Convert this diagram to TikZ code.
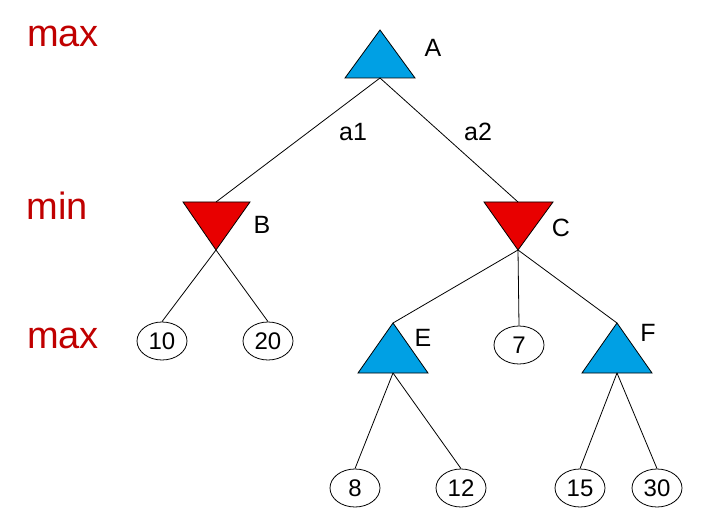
\documentclass[tikz,border=0pt]{standalone}
\usepackage{fontspec}
\usetikzlibrary{shapes.geometric}
\setmainfont{Liberation Sans}
\definecolor{maxc}{RGB}{0,160,228}
\definecolor{minc}{RGB}{232,0,0}
\definecolor{lvl}{RGB}{192,0,0}
\begin{document}
\begin{tikzpicture}[x=1pt,y=-1pt,
  lvltxt/.style={text=lvl,font=\fontsize{38}{40}\selectfont},
  lab/.style={font=\fontsize{25}{27}\selectfont},
  leaf/.style={draw,ellipse,minimum width=50pt,minimum height=38pt,inner sep=0pt,font=\fontsize{24}{26}\selectfont,thick},
  maxtri/.style={draw,fill=maxc,thick},
  mintri/.style={draw,fill=minc,thick},
  edge/.style={thick}]
\useasboundingbox (0,0) rectangle (717,518);
\node[lvltxt] (l1) at (63,36) {max};
\node[lvltxt] (l2) at (57,206) {min};
\node[lvltxt] (l3) at (63,338) {max};
% triangles
\draw[maxtri] (345,78) -- (380,30) -- (415,78) -- cycle;
\coordinate (Ab) at (380,78);
\node[lab] (A) at (433,48) {A};
\draw[mintri] (183,202) -- (250,202) -- (216,250) -- cycle;
\coordinate (Bt) at (216,202); \coordinate (Bb) at (216,250);
\node[lab] (B) at (262,225) {B};
\draw[mintri] (484,202) -- (553,202) -- (518,250) -- cycle;
\coordinate (Ct) at (518,202); \coordinate (Cb) at (518,250);
\node[lab] (C) at (561,228) {C};
\draw[maxtri] (358,373) -- (393,323) -- (428,373) -- cycle;
\coordinate (Et) at (393,323); \coordinate (Eb) at (393,373);
\node[lab] (E) at (423,338) {E};
\draw[maxtri] (582,373) -- (617,323) -- (652,373) -- cycle;
\coordinate (Ft) at (617,323); \coordinate (Fb) at (617,373);
\node[lab] (F) at (648,333) {F};
% leaves
\node[leaf] (n10) at (162,341) {10};
\node[leaf] (n20) at (268,341) {20};
\node[leaf] (n7) at (519,345) {7};
\node[leaf] (n8) at (355,488) {8};
\node[leaf] (n12) at (461,488) {12};
\node[leaf] (n15) at (580,488) {15};
\node[leaf] (n30) at (657,488) {30};
% edges
\draw[edge] (Ab) -- (Bt);
\draw[edge] (Ab) -- (Ct);
\node[lab] (a1) at (353,132) {a1};
\node[lab] (a2) at (478,132) {a2};
\draw[edge] (Bb) -- (n10.north);
\draw[edge] (Bb) -- (n20.north);
\draw[edge] (Cb) -- (Et);
\draw[edge] (Cb) -- (n7.north);
\draw[edge] (Cb) -- (Ft);
\draw[edge] (Eb) -- (n8.north);
\draw[edge] (Eb) -- (n12.north);
\draw[edge] (Fb) -- (n15.north);
\draw[edge] (Fb) -- (n30.north);
\end{tikzpicture}
\end{document}
